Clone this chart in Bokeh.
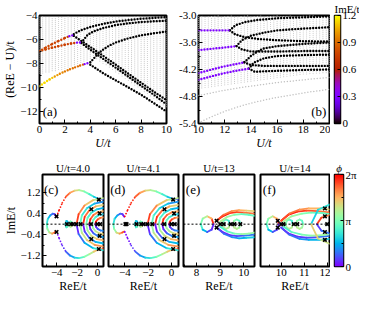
import numpy as np
from bokeh.plotting import figure
from bokeh.layouts import row, column
from bokeh.models import Label, Span, FixedTicker, LinearColorMapper, ColumnDataSource, PrintfTickFormatter
from bokeh.embed import file_html
from bokeh.resources import INLINE

FONT = "serif"
FS = "11px"

# ---------------- panel (a) data ----------------
a_cols_U = [0.0, 0.25, 0.5, 0.75, 1.0, 1.25, 1.5, 1.75, 2.0, 2.25, 2.5, 2.75, 3.0, 3.25,
            3.5, 3.75, 4.0, 4.25, 4.5, 4.75, 5.0, 5.25, 5.5, 5.75, 6.0, 6.25, 6.5, 6.75,
            7.0, 7.25, 7.5, 7.75, 8.0, 8.25, 8.5, 8.75, 9.0, 9.25, 9.5, 9.75, 10.0]
a_gray_top = [-4.1] * 41
a_gray_bot = [-8.8, -8.8, -8.7, -8.7, -8.6, -8.6, -8.5, -8.5, -8.4,
              -8.3, -8.2, -8.1, -8.0, -7.9, -7.8, -7.7, -7.6,
              -7.5, -7.6, -7.8, -8.0, -8.1, -8.3, -8.5, -8.7, -8.85, -9.05, -9.25,
              -9.4, -9.6, -9.8, -9.95, -10.15, -10.35, -10.5, -10.7, -10.9, -11.05, -11.25,
              -11.45, -11.6]

a_c1_U = [0.0, 0.5, 1.0, 1.5, 2.0, 2.35, 2.7]
a_c1_E = [-6.97, -6.66, -6.38, -6.12, -5.88, -5.72, -5.62]
a_c1_Im = [0.78, 0.78, 0.77, 0.76, 0.75, 0.3, 0.3]
a_c2_U = [0.0, 0.5, 1.0, 1.5, 2.0, 2.5, 2.95, 3.3]
a_c2_E = [-6.97, -6.82, -6.68, -6.55, -6.43, -6.33, -6.26, -6.25]
a_c2_Im = [0.78, 0.78, 0.77, 0.76, 0.75, 0.74, 0.3, 0.3]
a_c3_U = [0.0, 0.4, 0.8, 1.2, 1.6, 2.0, 2.4, 2.8, 3.2, 3.55, 4.0]
a_c3_E = [-9.9, -9.6, -9.32, -9.08, -8.86, -8.66, -8.48, -8.32, -8.17, -8.05, -7.9]
a_c3_Im = [1.15, 1.14, 1.1, 1.02, 0.97, 0.94, 0.92, 0.9, 0.88, 0.3, 0.3]

a_black_U = [
    [2.7, 3.2, 3.6, 4.0, 5.0, 6.0, 7.0, 8.0, 9.0, 10.0],
    [3.3, 3.8, 4.2, 5.0, 6.0, 7.0, 8.0, 9.0, 10.0],
    [4.0, 4.6, 5.0, 5.5, 6.0, 7.0, 8.0, 9.0, 10.0],
    [2.7, 3.2, 4.0, 5.0, 6.0, 7.0, 8.0, 9.0, 10.0],
    [3.3, 4.0, 5.0, 6.0, 7.0, 8.0, 9.0, 10.0],
    [4.0, 5.0, 6.0, 7.0, 8.0, 9.0, 10.0],
]
a_black_E = [
    [-5.55, -5.25, -5.1, -4.95, -4.7, -4.5, -4.38, -4.27, -4.2, -4.13],
    [-6.25, -5.6, -5.35, -5.05, -4.8, -4.65, -4.55, -4.48, -4.44],
    [-7.9, -7.2, -6.85, -6.5, -6.25, -5.9, -5.65, -5.48, -5.34],
    [-5.7, -6.05, -6.62, -7.35, -8.1, -8.85, -9.6, -10.35, -11.05],
    [-6.3, -6.85, -7.6, -8.35, -9.1, -9.85, -10.6, -11.4],
    [-8.1, -8.8, -9.4, -10.0, -10.6, -11.3, -12.0],
]

# ---------------- panel (b) data ----------------
b_cols_U = [10.0, 10.25, 10.5, 10.75, 11.0, 11.25, 11.5, 11.75, 12.0, 12.25, 12.5, 12.75,
            13.0, 13.25, 13.5, 13.75, 14.0, 14.25, 14.5, 14.75, 15.0, 15.25, 15.5, 15.75,
            16.0, 16.25, 16.5, 16.75, 17.0, 17.25, 17.5, 17.75, 18.0, 18.25, 18.5, 18.75,
            19.0, 19.25, 19.5, 19.75, 20.0]
b_gray_top = [-3.0] * 41
b_gray_bot = [-4.62, -4.61, -4.6, -4.59, -4.58, -4.57, -4.56, -4.55, -4.54, -4.53, -4.52,
              -4.51, -4.5, -4.49, -4.48, -4.47, -4.46, -4.45, -4.44, -4.43, -4.42, -4.41,
              -4.4, -4.39, -4.38, -4.37, -4.36, -4.35, -4.34, -4.33, -4.32, -4.31, -4.3,
              -4.3, -4.29, -4.29, -4.28, -4.28, -4.27, -4.27, -4.27]
b_gline_U = [10, 11, 12, 13, 14, 15, 16, 17, 18, 19, 20]
b_gline1_E = [-4.78, -4.72, -4.66, -4.61, -4.57, -4.53, -4.49, -4.46, -4.43, -4.4, -4.38]
b_gline2_E = [-5.38, -5.25, -5.13, -5.03, -4.95, -4.88, -4.82, -4.77, -4.72, -4.68, -4.64]

b_purple_U = [[10, 11, 12, 12.4], [10, 11, 12, 12.9], [10, 11, 12, 13, 13.5], [10, 11, 12, 13, 13.85]]
b_purple_E = [[-3.33, -3.33, -3.33, -3.33], [-3.77, -3.74, -3.71, -3.68],
              [-4.28, -4.2, -4.13, -4.07, -4.04], [-4.43, -4.35, -4.28, -4.22, -4.18]]
b_purple_Im = 0.3

b_black_U = [
    [12.4, 12.8, 13.5, 14.5, 16, 18, 20], [12.4, 12.8, 13.5, 14.5, 16, 18, 20],
    [12.9, 13.3, 14, 15, 16, 18, 20], [12.9, 13.3, 14, 15, 16, 18, 20],
    [13.5, 14, 14.5, 15, 16, 18, 20], [13.5, 14, 15, 16, 18, 20],
    [13.85, 14.2, 15, 16, 18, 20], [13.85, 14.3, 15, 16, 18, 20],
]
b_black_E = [
    [-3.33, -3.22, -3.15, -3.1, -3.06, -3.04, -3.02], [-3.33, -3.42, -3.48, -3.52, -3.55, -3.57, -3.58],
    [-3.68, -3.55, -3.45, -3.38, -3.33, -3.29, -3.26], [-3.68, -3.75, -3.8, -3.8, -3.8, -3.79, -3.79],
    [-4.04, -3.9, -3.8, -3.73, -3.68, -3.63, -3.6], [-4.04, -4.1, -4.12, -4.12, -4.12, -4.12],
    [-4.18, -4.05, -3.95, -3.9, -3.88, -3.87], [-4.18, -4.25, -4.24, -4.23, -4.21, -4.2],
]

# ---------------- panels (c)-(f) data: x, y, phi/2pi ----------------
c_dense_x = [
    [-3.1, -2.7, -2.25, -1.8, -1.3, -0.8, -0.35, 0.05, 0.35, 0.6],
    [-3.1, -2.7, -2.25, -1.8, -1.3, -0.8, -0.35, 0.05, 0.35, 0.6],
    [-4.05, -4.2, -4.4, -4.65, -4.88, -4.98, -4.92, -4.72, -4.45, -4.22, -4.05],
    [-2.85, -2.95, -3.05, -3.15, -3.05, -2.95, -2.85],
    [-2.45, -2.55, -2.65, -2.75, -2.65, -2.55, -2.45],
    [0.6, -0.41, -1.27, -1.85, -2.05, -1.85, -1.27, -0.41, 0.6],
    [0.6, -0.28, -1.03, -1.53, -1.7, -1.53, -1.03, -0.28, 0.6],
    [0.6, -0.17, -0.81, -1.25, -1.4, -1.25, -0.81, -0.17, 0.6],
    [0.6, -0.05, -0.6, -0.97, -1.1, -0.97, -0.6, -0.05, 0.6],
    [0.6, 0.06, -0.39, -0.69, -0.8, -0.69, -0.39, 0.06, 0.6],
    [0.6, 0.18, -0.18, -0.42, -0.5, -0.42, -0.18, 0.18, 0.6],
    [0.6, 0.29, 0.03, -0.14, -0.2, -0.14, 0.03, 0.29, 0.6],
]
c_dense_y = [
    [1.05, 1.2, 1.28, 1.3, 1.25, 1.15, 1.05, 0.98, 0.97, 0.95],
    [-1.05, -1.2, -1.28, -1.3, -1.25, -1.15, -1.05, -0.98, -0.97, -0.95],
    [0.28, 0.38, 0.4, 0.33, 0.2, 0.0, -0.18, -0.32, -0.36, -0.32, -0.28],
    [0.0, 0.1, 0.12, 0.0, -0.12, -0.1, 0.0],
    [0.0, 0.08, 0.1, 0.0, -0.1, -0.08, 0.0],
    [1.0, 0.92, 0.71, 0.38, 0.0, -0.38, -0.71, -0.92, -1.0],
    [0.86, 0.79, 0.61, 0.33, 0.0, -0.33, -0.61, -0.79, -0.86],
    [0.74, 0.68, 0.52, 0.28, 0.0, -0.28, -0.52, -0.68, -0.74],
    [0.62, 0.57, 0.44, 0.24, 0.0, -0.24, -0.44, -0.57, -0.62],
    [0.5, 0.46, 0.35, 0.19, 0.0, -0.19, -0.35, -0.46, -0.5],
    [0.38, 0.35, 0.27, 0.15, 0.0, -0.15, -0.27, -0.35, -0.38],
    [0.26, 0.24, 0.18, 0.1, 0.0, -0.1, -0.18, -0.24, -0.26],
]
c_dense_phi = [
    [0.87, 0.78, 0.68, 0.58, 0.48, 0.38, 0.28, 0.18, 0.1, 0.05],
    [0.13, 0.22, 0.32, 0.42, 0.52, 0.62, 0.72, 0.82, 0.9, 0.95],
    [0.02, 0.08, 0.15, 0.25, 0.35, 0.45, 0.55, 0.68, 0.8, 0.9, 0.98],
    [0.2, 0.25, 0.3, 0.35, 0.4, 0.45, 0.5],
    [0.4, 0.45, 0.5, 0.55, 0.6, 0.65, 0.7],
    [0.62, 0.72, 0.82, 0.92, 0.05, 0.15, 0.25, 0.35, 0.38],
    [0.2, 0.28, 0.36, 0.44, 0.56, 0.64, 0.72, 0.8, 0.82],
    [0.7, 0.78, 0.86, 0.94, 0.03, 0.1, 0.18, 0.26, 0.3],
    [0.25, 0.32, 0.4, 0.46, 0.54, 0.6, 0.68, 0.75, 0.78],
    [0.75, 0.82, 0.88, 0.95, 0.02, 0.08, 0.15, 0.22, 0.25],
    [0.3, 0.36, 0.42, 0.47, 0.53, 0.58, 0.64, 0.7, 0.72],
    [0.8, 0.86, 0.92, 0.97, 0.02, 0.06, 0.12, 0.18, 0.2],
]
c_sparse_x = [[-4.0, -3.75, -3.45, -3.1], [-4.0, -3.75, -3.45, -3.1]]
c_sparse_y = [[0.3, 0.55, 0.82, 1.05], [-0.3, -0.55, -0.82, -1.05]]
c_sparse_phi = [[1.0, 0.97, 0.93, 0.87], [0.0, 0.03, 0.07, 0.13]]
c_ep_x = [-4.02, -4.02, -3.0, -2.6, -2.4, -2.07, -1.65, -0.63, 0.0, 0.28, -0.6, -0.6, 0.14, 0.14, 0.22, 0.22]
c_ep_y = [0.3, -0.3, 0.0, 0.0, 0.0, 0.0, 0.0, 0.0, 0.0, 0.0, 0.57, -0.57, 0.94, -0.95, 0.41, -0.45]

d_ep_x = [-3.95, -3.85, -3.0, -2.6, -2.4, -2.07, -1.65, -0.63, 0.0, 0.28, -0.6, -0.6, 0.14, 0.14, 0.22, 0.22]
d_ep_y = [0.0, 0.0, 0.0, 0.0, 0.0, 0.0, 0.0, 0.0, 0.0, 0.0, 0.57, -0.57, 0.94, -0.95, 0.41, -0.45]

e_dense_x = [
    [8.72, 8.64, 8.45, 8.26, 8.18, 8.26, 8.45, 8.64, 8.72],
    [9.4, 9.36, 9.25, 9.14, 9.1, 9.14, 9.25, 9.36, 9.4],
    [9.85, 9.81, 9.7, 9.59, 9.55, 9.59, 9.7, 9.81, 9.85],
    [8.85, 9.1, 9.4, 9.7, 10.0, 10.45], [8.85, 9.15, 9.5, 9.8, 10.1, 10.45],
    [9.0, 9.3, 9.6, 9.9, 10.2, 10.45],
    [8.85, 9.1, 9.4, 9.7, 10.0, 10.45], [8.85, 9.15, 9.5, 9.8, 10.1, 10.45],
    [9.0, 9.3, 9.6, 9.9, 10.2, 10.45],
]
e_dense_y = [
    [0.0, 0.21, 0.3, 0.21, 0.0, -0.21, -0.3, -0.21, 0.0],
    [0.0, 0.13, 0.18, 0.13, 0.0, -0.13, -0.18, -0.13, 0.0],
    [0.0, 0.13, 0.18, 0.13, 0.0, -0.13, -0.18, -0.13, 0.0],
    [0.13, 0.3, 0.42, 0.46, 0.44, 0.4], [0.13, 0.36, 0.5, 0.54, 0.52, 0.5],
    [0.1, 0.28, 0.36, 0.38, 0.36, 0.32],
    [-0.13, -0.3, -0.42, -0.46, -0.44, -0.4], [-0.13, -0.36, -0.5, -0.54, -0.52, -0.5],
    [-0.1, -0.28, -0.36, -0.38, -0.36, -0.32],
]
e_dense_phi = [
    [0.95, 0.75, 0.6, 0.5, 0.4, 0.25, 0.1, 0.05, 0.05],
    [0.35, 0.4, 0.45, 0.5, 0.55, 0.6, 0.62, 0.6, 0.55],
    [0.4, 0.45, 0.5, 0.55, 0.6, 0.62, 0.6, 0.55, 0.5],
    [1.0, 0.97, 0.93, 0.9, 0.85, 0.8], [0.9, 0.85, 0.8, 0.75, 0.7, 0.65],
    [0.6, 0.55, 0.5, 0.45, 0.45, 0.4],
    [0.0, 0.03, 0.07, 0.1, 0.15, 0.2], [0.1, 0.15, 0.2, 0.25, 0.3, 0.35],
    [0.4, 0.45, 0.5, 0.55, 0.55, 0.6],
]
e_ep_x = [8.85, 8.85, 9.0, 9.15, 9.45, 9.6, 9.85]
e_ep_y = [0.13, -0.13, 0.0, 0.0, 0.0, 0.0, 0.0]

f_dense_x = [
    [9.9, 9.82, 9.63, 9.44, 9.36, 9.44, 9.63, 9.82, 9.9],
    [10.5, 10.46, 10.35, 10.24, 10.2, 10.24, 10.35, 10.46, 10.5],
    [10.95, 10.91, 10.8, 10.69, 10.65, 10.69, 10.8, 10.91, 10.95],
    [10.0, 10.3, 10.7, 11.1, 11.6, 12.1], [10.0, 10.35, 10.8, 11.2, 11.7, 12.1],
    [10.1, 10.45, 10.9, 11.3, 11.8, 12.1],
    [10.0, 10.3, 10.7, 11.1, 11.6, 12.1], [10.0, 10.35, 10.8, 11.2, 11.7, 12.1],
    [10.1, 10.45, 10.9, 11.3, 11.8, 12.1],
    [12.1, 11.6, 11.3, 11.6, 12.1], [12.1, 11.75, 11.55, 11.75, 12.1],
]
f_dense_y = [
    [0.0, 0.21, 0.3, 0.21, 0.0, -0.21, -0.3, -0.21, 0.0],
    [0.0, 0.13, 0.18, 0.13, 0.0, -0.13, -0.18, -0.13, 0.0],
    [0.0, 0.13, 0.18, 0.13, 0.0, -0.13, -0.18, -0.13, 0.0],
    [0.13, 0.35, 0.48, 0.52, 0.5, 0.45], [0.13, 0.4, 0.56, 0.6, 0.6, 0.56],
    [0.1, 0.3, 0.4, 0.44, 0.42, 0.38],
    [-0.13, -0.35, -0.48, -0.52, -0.5, -0.45], [-0.13, -0.4, -0.56, -0.6, -0.6, -0.56],
    [-0.1, -0.3, -0.4, -0.44, -0.42, -0.38],
    [0.75, 0.55, 0.0, -0.55, -0.75], [0.35, 0.25, 0.0, -0.25, -0.35],
]
f_dense_phi = [
    [0.95, 0.75, 0.6, 0.5, 0.4, 0.25, 0.1, 0.05, 0.05],
    [0.35, 0.4, 0.45, 0.5, 0.55, 0.6, 0.62, 0.6, 0.55],
    [0.4, 0.45, 0.5, 0.55, 0.6, 0.62, 0.6, 0.55, 0.5],
    [1.0, 0.97, 0.93, 0.9, 0.85, 0.8], [0.9, 0.85, 0.8, 0.75, 0.7, 0.65],
    [0.6, 0.55, 0.5, 0.45, 0.45, 0.4],
    [0.0, 0.03, 0.07, 0.1, 0.15, 0.2], [0.1, 0.15, 0.2, 0.25, 0.3, 0.35],
    [0.4, 0.45, 0.5, 0.55, 0.55, 0.6],
    [0.35, 0.3, 0.7, 0.65, 0.65], [0.85, 0.92, 0.08, 0.15, 0.15],
]
f_ep_x = [9.85, 9.85, 10.0, 10.1, 10.55, 10.7, 11.9, 11.9, 11.9, 11.9, 12.0]
f_ep_y = [0.13, -0.13, 0.0, 0.0, 0.0, 0.0, 0.6, -0.6, 0.3, -0.3, 0.0]

# ---------------- colour maps ----------------
def gnuplot_hex(v):
    v = min(max(v, 0.0), 1.0)
    r, g, b = np.sqrt(v), v ** 3, max(0.0, np.sin(2 * np.pi * v))
    return "#%02x%02x%02x" % (int(r * 255), int(g * 255), int(b * 255))


def rainbow_hex(v):
    v = min(max(v, 0.0), 1.0)
    r, g, b = min(1.0, abs(2 * v - 0.5)), np.sin(np.pi * v), np.cos(np.pi * v / 2)
    return "#%02x%02x%02x" % (int(r * 255), int(g * 255), int(b * 255))


GNU = [gnuplot_hex(i / 255) for i in range(256)]
RAIN = [rainbow_hex(i / 255) for i in range(256)]


def segments(xs, ys, vals, cfun):
    sx, sy, sc = [], [], []
    for i in range(len(xs) - 1):
        sx.append([xs[i], xs[i + 1]])
        sy.append([ys[i], ys[i + 1]])
        sc.append(cfun(vals[i]))
    return sx, sy, sc


# ---------------- figure helpers ----------------
def base_fig(w, h, xr, yr, bl, br, bt, bb, yloc="left", xloc="below", title=None):
    kw = {}
    if title is not None:
        kw["title"] = title
    p = figure(width=w, height=h, x_range=xr, y_range=yr, output_backend="svg",
               toolbar_location=None, min_border_left=bl, min_border_right=br,
               min_border_top=bt, min_border_bottom=bb, x_axis_location=xloc,
               y_axis_location=yloc, **kw)
    p.outline_line_color = "black"
    p.outline_line_width = 2
    p.outline_line_alpha = 1.0
    p.grid.visible = False
    if title is not None:
        p.title.align = "center"
        p.title.text_font = FONT
        p.title.text_font_size = "11px"
        p.title.text_font_style = "normal"
        p.title.text_color = "black"
        p.title.standoff = 1
    for ax in p.axis:
        ax.major_tick_in = 4
        ax.major_tick_out = 0
        ax.minor_tick_in = 2
        ax.minor_tick_out = 0
        ax.axis_line_color = None
        ax.major_tick_line_color = "black"
        ax.minor_tick_line_color = "black"
        ax.major_label_text_font = FONT
        ax.major_label_text_font_size = FS
        ax.major_label_text_color = "black"
        ax.major_label_standoff = 2
        ax.axis_label_text_font = FONT
        ax.axis_label_text_font_size = "12px"
        ax.axis_label_text_font_style = "normal"
        ax.axis_label_text_color = "black"
        ax.axis_label_standoff = 0
    return p


def panel_label(p, x, y, text):
    p.add_layout(Label(x=x, y=y, text=text, text_font=FONT, text_font_size="13px",
                       text_color="black"))


def dotted_curve(p, xs, ys, color, width=2.4):
    p.line(xs, ys, line_color=color, line_width=width, line_dash="0 3", line_cap="round")


GRAY = "#cdcdcd"

# ---------------- panel (a) ----------------
pa = base_fig(176, 152, (0, 10), (-13, -4), 33, 10, 15, 28)
pa.segment(x0=a_cols_U, y0=a_gray_bot, x1=a_cols_U, y1=a_gray_top, line_color=GRAY,
           line_width=1.2, line_dash="0 2", line_cap="round")
for U, E in zip(a_black_U, a_black_E):
    dotted_curve(pa, U, E, "black")
for U, E, Im in [(a_c1_U, a_c1_E, a_c1_Im), (a_c2_U, a_c2_E, a_c2_Im), (a_c3_U, a_c3_E, a_c3_Im)]:
    sx, sy, sc = segments(U, E, [v / 1.2 for v in Im], gnuplot_hex)
    for xx, yy, cc in zip(sx, sy, sc):
        dotted_curve(pa, xx, yy, cc)
pa.xaxis.ticker = FixedTicker(ticks=[0, 2, 4, 6, 8, 10], minor_ticks=[1, 3, 5, 7, 9])
pa.yaxis.ticker = FixedTicker(ticks=[-12, -10, -8, -6, -4], minor_ticks=[-13, -11, -9, -7, -5])
pa.xaxis.axis_label = "U/t"
pa.xaxis.axis_label_text_font_style = "italic"
pa.yaxis.axis_label = "(ReE − U)/t"
panel_label(pa, 0.25, -12.6, "(a)")

# ---------------- panel (b) ----------------
pb = base_fig(154, 152, (10, 20), (-5.4, -3.0), 20, 1, 15, 28)
pb.segment(x0=b_cols_U, y0=b_gray_bot, x1=b_cols_U, y1=b_gray_top, line_color=GRAY,
           line_width=1.2, line_dash="0 2", line_cap="round")
dotted_curve(pb, b_gline_U, b_gline1_E, "#c0c0c0", 1.5)
dotted_curve(pb, b_gline_U, b_gline2_E, "#c0c0c0", 1.5)
for U, E in zip(b_black_U, b_black_E):
    dotted_curve(pb, U, E, "black")
for U, E in zip(b_purple_U, b_purple_E):
    dotted_curve(pb, U, E, gnuplot_hex(b_purple_Im / 1.2))
pb.xaxis.ticker = FixedTicker(ticks=[10, 12, 14, 16, 18, 20], minor_ticks=[11, 13, 15, 17, 19])
pb.yaxis.ticker = FixedTicker(ticks=[-5.4, -4.8, -4.2, -3.6, -3.0],
                              minor_ticks=[-5.1, -4.5, -3.9, -3.3])
pb.yaxis.formatter = PrintfTickFormatter(format="%.1f")
pb.xaxis.axis_label = "U/t"
pb.xaxis.axis_label_text_font_style = "italic"
panel_label(pb, 18.6, -5.3, "(b)")

# ---------------- colour bar (Im E) ----------------
pcb1 = base_fig(29, 152, (0, 1), (0, 1.2), 4, 16, 15, 28, yloc="right", xloc=None,
                title="ImE/t")
pcb1.title.align = "left"
pcb1.image(image=[np.linspace(0, 1.2, 256).reshape(256, 1)], x=0, y=0, dw=1, dh=1.2,
           color_mapper=LinearColorMapper(palette=GNU, low=0, high=1.2))
pcb1.yaxis.ticker = FixedTicker(ticks=[0.0, 0.3, 0.6, 0.9, 1.2])
pcb1.yaxis.major_tick_in = 3
pcb1.outline_line_width = 1.5

# ---------------- panels (c)-(f) ----------------
YR = (-1.62, 1.9)


def loop_panel(w, bl, br, xr, title, dense_x, dense_y, dense_phi, ep_x, ep_y,
               sparse=None, first=False):
    p = base_fig(w, 143, xr, YR, bl, br, 14, 22, title=title)
    p.add_layout(Span(location=0, dimension="width", line_color="black", line_width=1,
                      line_dash="2 2"))
    for xs, ys, ph in zip(dense_x, dense_y, dense_phi):
        sx, sy, sc = segments(xs, ys, ph, rainbow_hex)
        src = ColumnDataSource(dict(xs=sx, ys=sy, c=sc))
        p.multi_line(xs="xs", ys="ys", line_color="c", line_width=1.8, source=src,
                     line_cap="round")
    if sparse is not None:
        for xs, ys, ph in zip(*sparse):
            sx, sy, sc = segments(xs, ys, ph, rainbow_hex)
            for xx, yy, cc in zip(sx, sy, sc):
                dotted_curve(p, xx, yy, cc, 1.8)
    p.scatter(ep_x, ep_y, marker="x", size=5, line_color="black", line_width=1.6)
    p.yaxis.ticker = FixedTicker(ticks=[-1.2, -0.4, 0.4, 1.2], minor_ticks=[-0.8, 0.0, 0.8])
    p.xaxis.axis_label = "ReE/t"
    if not first:
        p.yaxis.visible = False
    else:
        p.yaxis.axis_label = "ImE/t"
    return p


pc = loop_panel(106, 33, 3, (-5.4, 0.6), "U/t=4.0", c_dense_x, c_dense_y, c_dense_phi,
                c_ep_x, c_ep_y, sparse=(c_sparse_x, c_sparse_y, c_sparse_phi), first=True)
pc.xaxis.ticker = FixedTicker(ticks=[-4, -2, 0], minor_ticks=[-5, -3, -1])
panel_label(pc, -5.25, 1.05, "(c)")

pd = loop_panel(75, 2, 3, (-5.4, 0.6), "U/t=4.1", c_dense_x, c_dense_y, c_dense_phi,
                d_ep_x, d_ep_y, sparse=(c_sparse_x, c_sparse_y, c_sparse_phi))
pd.xaxis.ticker = FixedTicker(ticks=[-4, -2, 0], minor_ticks=[-5, -3, -1])
panel_label(pd, -5.25, 1.05, "(d)")

pe = loop_panel(76, 2, 3, (7.45, 10.45), "U/t=13", e_dense_x, e_dense_y, e_dense_phi,
                e_ep_x, e_ep_y)
pe.xaxis.ticker = FixedTicker(ticks=[8, 9, 10], minor_ticks=[7.5, 8.5, 9.5])
panel_label(pe, 7.55, 1.05, "(e)")

pf = loop_panel(73, 3, 1, (9.1, 12.1), "U/t=14", f_dense_x, f_dense_y, f_dense_phi,
                f_ep_x, f_ep_y)
pf.xaxis.ticker = FixedTicker(ticks=[10, 11, 12], minor_ticks=[9.5, 10.5, 11.5])
panel_label(pf, 9.2, 1.05, "(f)")

# ---------------- colour bar (phi) ----------------
pcb2 = base_fig(29, 143, (0, 1), (0, 2), 4, 16, 22, 22, yloc="right", xloc=None, title="ϕ")
pcb2.title.text_font_style = "italic"
pcb2.image(image=[np.linspace(0, 2, 256).reshape(256, 1)], x=0, y=0, dw=1, dh=2,
           color_mapper=LinearColorMapper(palette=RAIN, low=0, high=2))
pcb2.yaxis.ticker = FixedTicker(ticks=[0, 1, 2], minor_ticks=[0.5, 1.5])
pcb2.yaxis.major_label_overrides = {0: "0", 1: "π", 2: "2π"}
pcb2.yaxis.major_tick_in = 3
pcb2.outline_line_width = 1.5

layout = column(row(pa, pb, pcb1), row(pc, pd, pe, pf, pcb2))
open("out.html", "w").write(file_html(layout, INLINE))
